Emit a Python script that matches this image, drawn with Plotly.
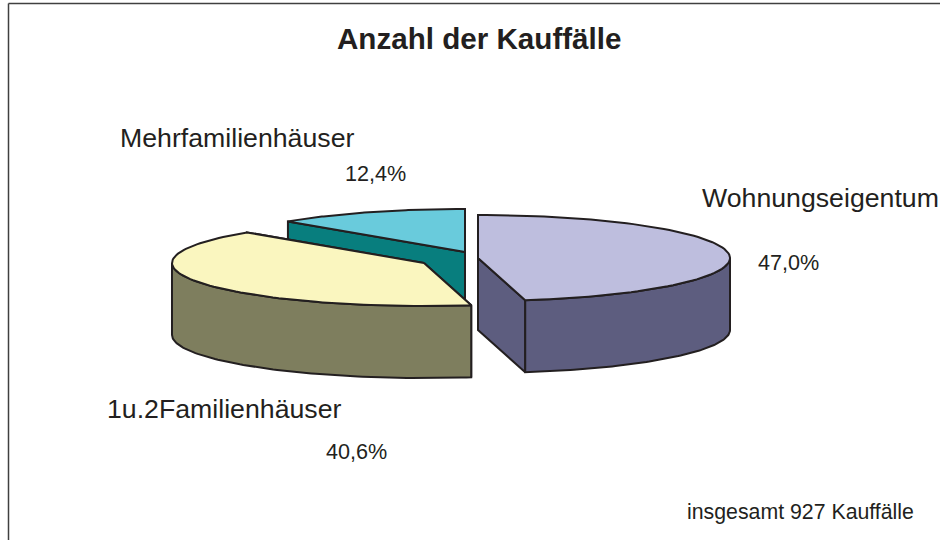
import numpy as np
import plotly.graph_objects as go

categories = ['Wohnungseigentum', '1u.2Familienhäuser', 'Mehrfamilienhäuser']
shares = [47.0, 40.6, 12.4]
share_labels = ['47,0%', '40,6%', '12,4%']
title_text = 'Anzahl der Kauffälle'
note_text = 'insgesamt 927 Kauffälle'

top_colors = ['#BEBEDE', '#FAF6BF', '#69CBDC']
side_colors = ['#5D5D7F', '#7E7E5E', '#087E7E']
edge = '#231F20'

# Mittelpunkt jedes Stücks (explodiert) und Ellipse der Torte
centers = [(478, 258), (424, 263), (465, 252)]
rx, ry = 252, 43
depth = 72


def rim(cx, cy, start, end, n=90):
    # Winkel in Grad, 0 = oben, im Uhrzeigersinn
    a = np.radians(np.linspace(start, end, n))
    return cx + rx * np.sin(a), cy - ry * np.cos(a)


def add_poly(fig, xs, ys, color):
    fig.add_trace(go.Scatter(
        x=list(xs), y=list(ys), mode='lines', fill='toself', fillcolor=color,
        line=dict(color=edge, width=2), hoverinfo='skip', showlegend=False
    ))


def add_slice(fig, i, start, end):
    cx, cy = centers[i]
    side = side_colors[i]
    ax, ay = rim(cx, cy, start, end)

    # Schnittflächen
    for px, py in [(ax[0], ay[0]), (ax[-1], ay[-1])]:
        add_poly(fig, [cx, px, px, cx, cx], [cy, py, py + depth, cy + depth, cy], side)

    # Außenwand, nur der vordere Teil (90 bis 270 Grad)
    lo, hi = max(start, 90), min(end, 270)
    if lo < hi:
        wx, wy = rim(cx, cy, lo, hi)
        add_poly(fig, np.r_[wx, wx[::-1], wx[0]], np.r_[wy, wy[::-1] + depth, wy[0]], side)

    # Deckfläche
    add_poly(fig, np.r_[cx, ax, cx], np.r_[cy, ay, cy], top_colors[i])


fig = go.Figure()

edges = np.r_[0, np.cumsum(shares)] * 3.6
# von hinten nach vorne zeichnen
for i in [2, 1, 0]:
    add_slice(fig, i, edges[i], edges[i + 1])

font = 'Liberation Sans, Arial, sans-serif'
texts = [
    (title_text, 479, 38, 29.6, True, 'center'),
    (categories[2], 118, 138, 26.7, False, 'left'),
    (share_labels[2], 375, 173, 21.6, False, 'center'),
    (categories[0], 700, 198, 26.7, False, 'left'),
    (share_labels[0], 788, 262, 21.6, False, 'center'),
    (categories[1], 105, 409, 26.7, False, 'left'),
    (share_labels[1], 356.5, 451, 21.6, False, 'center'),
    (note_text, 685, 512, 21.3, False, 'left'),
]
for text, x, y, size, bold, anchor in texts:
    fig.add_annotation(
        x=x, y=y, xref='x', yref='y', text=f'<b>{text}</b>' if bold else text,
        showarrow=False, xanchor=anchor, yanchor='middle',
        font=dict(family=font, size=size, color='#231F20')
    )

# Rahmen oben und links
fig.add_shape(type='line', x0=8.5, x1=8.5, y0=3.5, y1=540, line=dict(color='#404040', width=1.5))
fig.add_shape(type='line', x0=8.5, x1=940, y0=3.5, y1=3.5, line=dict(color='#404040', width=1.5))

fig.update_layout(
    width=940, height=540, margin=dict(l=0, r=0, t=0, b=0),
    paper_bgcolor='white', plot_bgcolor='white', showlegend=False,
    xaxis=dict(range=[0, 940], visible=False, fixedrange=True),
    yaxis=dict(range=[540, 0], visible=False, fixedrange=True)
)

# Seitenrand des Browsers entfernen, damit das Bild genau 940x540 füllt
fig.write_html(
    'out.html',
    config={'displayModeBar': False},
    post_script="document.body.style.margin='0';document.body.style.overflow='hidden';"
)
